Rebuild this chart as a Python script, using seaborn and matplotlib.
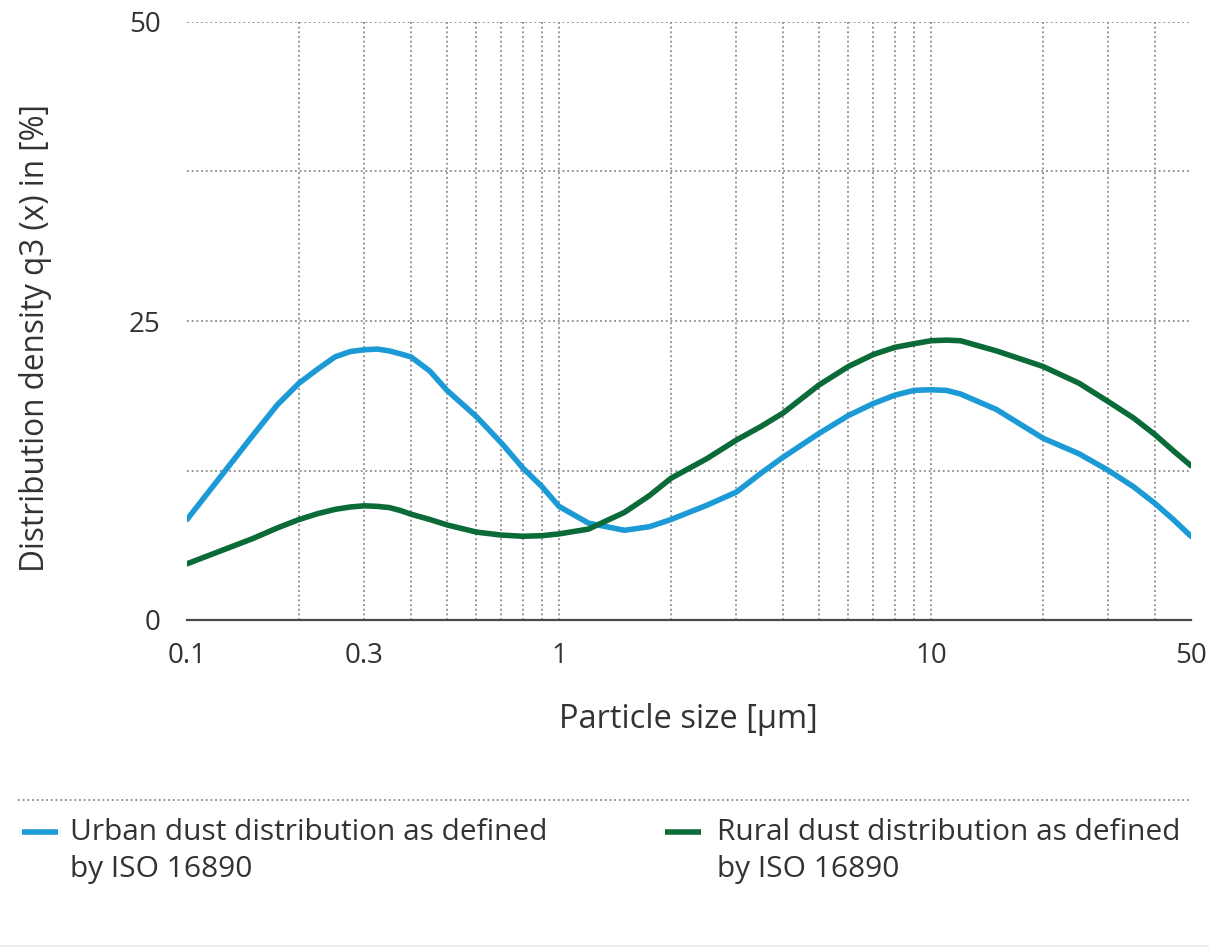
import matplotlib
matplotlib.use("Agg")
import matplotlib.pyplot as plt
import seaborn as sns
import pandas as pd
from matplotlib.ticker import FixedLocator, NullFormatter
from matplotlib.lines import Line2D

# ---------------- data ----------------
particle_size = [0.1, 0.15, 0.175, 0.2, 0.225, 0.25, 0.275, 0.3, 0.325, 0.35, 0.375, 0.4,
                 0.45, 0.5, 0.6, 0.7, 0.8, 0.9, 1.0, 1.2, 1.5, 1.75, 2, 2.5, 3, 3.5,
                 4, 5, 6, 7, 8, 9, 10, 11, 12, 15, 20, 25, 30, 35, 40, 45, 50]
urban_q3 = [8.4, 15.4, 18.0, 19.8, 21.0, 22.0, 22.45, 22.6, 22.65, 22.5, 22.25, 22.0,
            20.8, 19.2, 17.0, 14.8, 12.7, 11.15, 9.5, 8.1, 7.5, 7.8, 8.4, 9.6, 10.7, 12.3,
            13.6, 15.6, 17.1, 18.1, 18.8, 19.2, 19.25, 19.2, 18.9, 17.6, 15.2, 13.9, 12.5,
            11.15, 9.75, 8.35, 7.0]
rural_q3 = [4.7, 6.8, 7.7, 8.4, 8.9, 9.25, 9.45, 9.55, 9.5, 9.4, 9.15, 8.85,
            8.4, 7.95, 7.35, 7.1, 7.0, 7.05, 7.2, 7.6, 9.0, 10.4, 11.85, 13.5, 15.05, 16.2,
            17.3, 19.65, 21.2, 22.2, 22.8, 23.1, 23.35, 23.4, 23.35, 22.5, 21.2, 19.8, 18.25,
            16.9, 15.5, 14.1, 12.9]

series_names = ["Urban dust distribution as defined by ISO 16890",
                "Rural dust distribution as defined by ISO 16890"]
legend_lines = [("Urban dust distribution as defined", "by ISO 16890"),
                ("Rural dust distribution as defined", "by ISO 16890")]
series_colors = ["#1b9ad6", "#0b6b38"]

x_tick_values = [0.1, 0.3, 1, 10, 50]
x_tick_labels = ["0.1", "0.3", "1", "10", "50"]
x_grid_values = [0.2, 0.3, 0.4, 0.5, 0.6, 0.7, 0.8, 0.9, 1,
                 2, 3, 4, 5, 6, 7, 8, 9, 10, 20, 30, 40]
y_tick_values = [0, 25, 50]
y_grid_minor = [12.5, 37.5]

x_label = "Particle size [µm]"
y_label = "Distribution density q3 (x) in [%]"

# ---------------- style ----------------
sns.set_theme(style="white")
plt.rcParams["font.family"] = ["Open Sans", "DejaVu Sans"]
text_color = "#333333"
grid_kw = dict(color="#8a8a8a", linewidth=1.3, linestyle=(0, (1, 1.6)))

W, H = 1209, 951
fig = plt.figure(figsize=(W / 100, H / 100), dpi=100)
fig.patch.set_facecolor("white")

left_px, right_px, top_px, bottom_px = 187, 1191, 22, 620
ax = fig.add_axes([left_px / W, 1 - bottom_px / H,
                   (right_px - left_px) / W, (bottom_px - top_px) / H])

df = pd.DataFrame({
    "size": particle_size * 2,
    "q3": urban_q3 + rural_q3,
    "series": [series_names[0]] * len(particle_size) + [series_names[1]] * len(particle_size),
})
sns.lineplot(data=df, x="size", y="q3", hue="series",
             palette=dict(zip(series_names, series_colors)),
             linewidth=4.0, ax=ax, legend=False, estimator=None, sort=False,
             zorder=3)
for ln in ax.get_lines():
    ln.set_solid_joinstyle("round")
    ln.set_solid_capstyle("round")

ax.set_xscale("log")
ax.set_xlim(0.1, 50)
ax.set_ylim(0, 50)

ax.xaxis.set_major_locator(FixedLocator(x_tick_values))
ax.set_xticklabels(x_tick_labels)
ax.xaxis.set_minor_locator(FixedLocator(x_grid_values))
ax.xaxis.set_minor_formatter(NullFormatter())
ax.xaxis.remove_overlapping_locs = False
ax.yaxis.set_major_locator(FixedLocator(y_tick_values))
ax.yaxis.set_minor_locator(FixedLocator(y_grid_minor))
ax.yaxis.set_minor_formatter(NullFormatter())

ax.grid(False)
ax.xaxis.grid(True, which="minor", **grid_kw)
ax.yaxis.grid(True, which="both", **grid_kw)
ax.set_axisbelow(True)

ax.tick_params(which="both", length=0)
ax.tick_params(axis="x", pad=16, labelsize=20, labelcolor=text_color)
ax.tick_params(axis="y", pad=19, labelsize=20, labelcolor=text_color)

for s in ["left", "right", "top"]:
    ax.spines[s].set_visible(False)
ax.spines["bottom"].set_color("#4a4a4a")
ax.spines["bottom"].set_linewidth(1.6)
ax.spines["bottom"].set_zorder(4)

ax.set_xlabel("")
ax.set_ylabel("")
fig.text(36 / W, 1 - 338 / H, y_label, rotation=90, ha="center", va="center",
         fontsize=22.7, color=text_color)
fig.text(688 / W, 1 - 720 / H, x_label, ha="center", va="center",
         fontsize=23.5, color=text_color)

# ---------------- legend area ----------------
fig.add_artist(Line2D([18 / W, 1190 / W], [1 - 800 / H, 1 - 800 / H],
                      transform=fig.transFigure, **grid_kw))
fig.add_artist(Line2D([0 / W, 1209 / W], [1 - 946 / H, 1 - 946 / H],
                      transform=fig.transFigure, color="#efefef", linewidth=1.5))

handle_x = [(22, 58), (665, 701)]
text_x = [70, 717]
for (hx0, hx1), tx, color, (l1, l2) in zip(handle_x, text_x, series_colors, legend_lines):
    fig.add_artist(Line2D([hx0 / W, hx1 / W], [1 - 832 / H, 1 - 832 / H],
                          transform=fig.transFigure, color=color, linewidth=4.0,
                          solid_capstyle="butt"))
    fig.text(tx / W, 1 - 833 / H, l1, ha="left", va="center", fontsize=21.5, color=text_color)
    fig.text(tx / W, 1 - 869 / H, l2, ha="left", va="center", fontsize=21.5, color=text_color)

fig.savefig("out.png", dpi=100, facecolor="white")
